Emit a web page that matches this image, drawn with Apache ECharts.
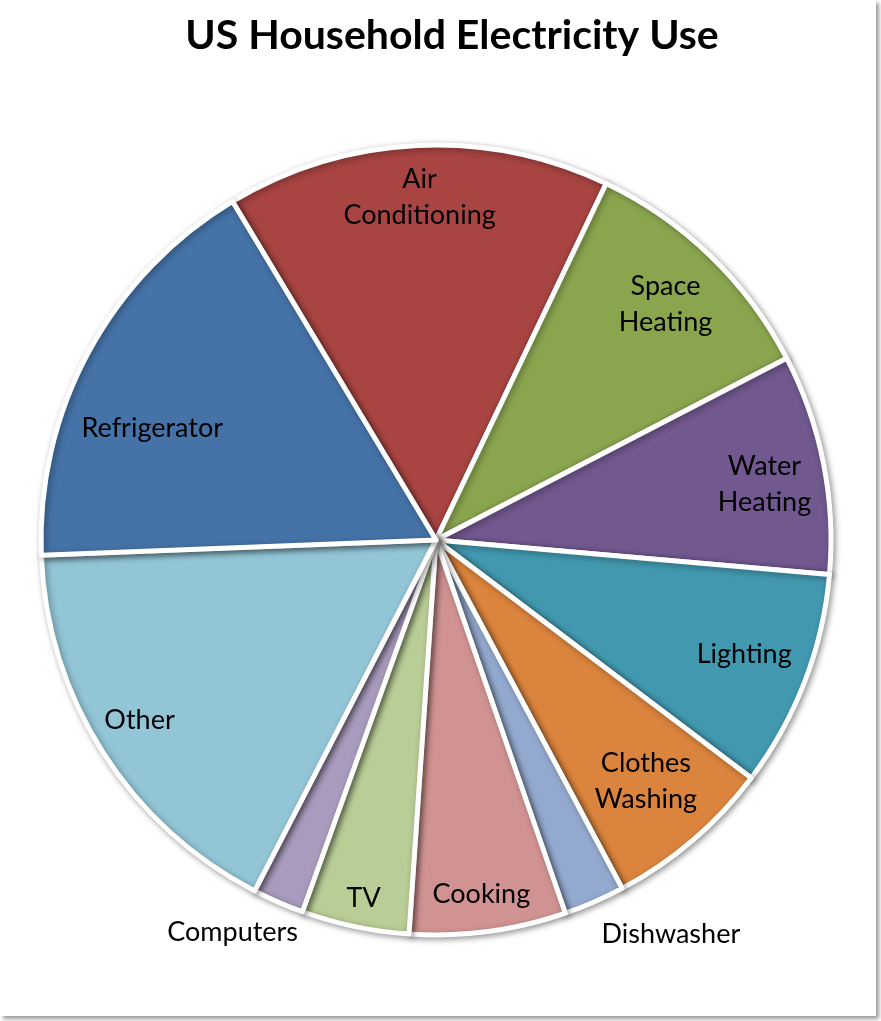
<!DOCTYPE html>
<html>
<head>
<meta charset="utf-8">
<script src="https://cdn.jsdelivr.net/npm/echarts@6/dist/echarts.min.js"></script>
<style>
html,body{margin:0;padding:0;background:#fff;}
#chart{width:881px;height:1021px;}
</style>
</head>
<body>
<div id="chart"></div>
<script>
const categories = ['Air\nConditioning','Space\nHeating','Water\nHeating','Lighting','Clothes\nWashing','Dishwasher','Cooking','TV','Computers','Other','Refrigerator'];
const values = [15.7, 10.3, 9.0, 8.9, 6.9, 2.5, 6.4, 4.4, 2.1, 16.8, 17.0];
const colors = ['#A84442','#89A54E','#71588F','#4198AF','#DB843D','#93A9CF','#D19392','#B9CD96','#A99BBD','#92C5D6','#4572A7'];
const outsideLabels = ['Computers','Dishwasher'];

// label nudges (style only, pixels)
const labelNudge = {
  'Space\nHeating':[-9,11],
  'Water\nHeating':[-8,11],
  'Lighting':[-12,-9],
  'Clothes\nWashing':[-13,-19],
  'Other':[-7,-4],
  'Cooking':[0,14],
  'TV':[-2,23],
  'Refrigerator':[18,51],
  'Computers':[32,14],
  'Dishwasher':[-5,16]
};

const chart = echarts.init(document.getElementById('chart'), null, {renderer:'canvas'});
const FONT = 'Lato';
const CX = 436, CY = 540, R = 395;

const visData = categories.map((c,i)=>({name:c, value:values[i], itemStyle:{color:colors[i]}}));
const labelData = categories.map((c,i)=>{
  const out = outsideLabels.indexOf(c) >= 0;
  return {
    name:c, value:values[i],
    label: out ? {position:'outside'} : {position:'inside'},
    labelLine: {show:false, length: out ? 18 : 0, length2: 0}
  };
});

chart.setOption({
  backgroundColor:'#fff',
  animation:false,
  title:{
    text:'US Household Electricity Use',
    left:447, top:10, textAlign:'center',
    textStyle:{fontFamily:FONT, fontWeight:'bold', fontSize:41, color:'#000'}
  },
  graphic:[{
    type:'rect', z:-10, silent:true,
    shape:{x:0,y:0,width:876,height:1016},
    style:{fill:'#fff', shadowColor:'rgba(0,0,0,0.4)', shadowBlur:4, shadowOffsetX:3, shadowOffsetY:3}
  }],
  series:[{
    type:'pie',
    center:[CX,CY], radius:[0,R],
    startAngle:121, clockwise:true,
    silent:true, avoidLabelOverlap:false,
    label:{show:false}, labelLine:{show:false},
    itemStyle:{borderColor:'#fff', borderWidth:5, shadowColor:'rgba(0,0,0,0.35)', shadowBlur:6, shadowOffsetX:2, shadowOffsetY:2},
    data:visData
  },{
    type:'pie',
    center:[CX,CY], radius:[285,R],
    startAngle:121, clockwise:true,
    silent:true, avoidLabelOverlap:false,
    itemStyle:{color:'rgba(0,0,0,0)'},
    label:{show:true, fontFamily:FONT, fontSize:27, lineHeight:36, color:'#000', formatter:'{b}'},
    labelLayout:function(p){
      const d = labelNudge[categories[p.dataIndex]];
      return d ? {dx:d[0], dy:d[1]} : {};
    },
    data:labelData
  }]
});
</script>
</body>
</html>
